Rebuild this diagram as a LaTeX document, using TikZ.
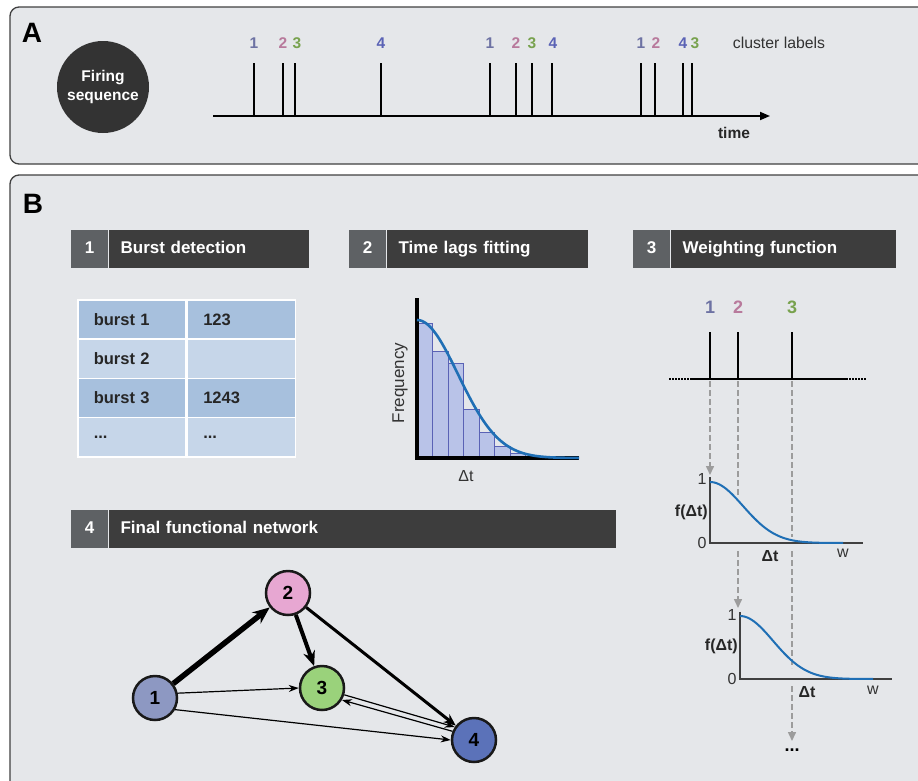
\documentclass[tikz,border=0pt]{standalone}
\usepackage{fontspec}
\setmainfont{Liberation Sans}
\usepackage{tikz}
\usetikzlibrary{positioning, arrows.meta}

\definecolor{panelbg}{HTML}{E5E7EA}
\definecolor{hdrdark}{HTML}{3D3D3D}
\definecolor{hdrnum}{HTML}{5E6164}
\definecolor{cluA}{HTML}{6D72A3}
\definecolor{cluB}{HTML}{B87A9C}
\definecolor{cluC}{HTML}{78A24E}
\definecolor{cluD}{HTML}{5A62B5}
\definecolor{rowdark}{HTML}{A7C0DD}
\definecolor{rowlight}{HTML}{C6D6E9}
\definecolor{barfill}{HTML}{B9C3E8}
\definecolor{barline}{HTML}{5A62B5}
\definecolor{fitblue}{HTML}{1F6FB5}
\definecolor{nodeA}{HTML}{8D98C2}
\definecolor{nodeB}{HTML}{E7A7D2}
\definecolor{nodeC}{HTML}{9AD27B}
\definecolor{nodeD}{HTML}{5B72B9}
\definecolor{guide}{HTML}{9C9C9C}
\newcommand{\celldots}{...}

\begin{document}
\begin{tikzpicture}[x=1pt, y=-1pt,
        panel/.style={draw=black!75, line width=1.3pt, fill=panelbg, rounded corners=9pt},
        letter/.style={font=\fontsize{28}{30}\selectfont\bfseries},
        hnum/.style={fill=hdrnum, text=white, font=\fontsize{17}{20}\selectfont\bfseries, minimum width=37pt, minimum height=38pt, inner sep=0pt, text height=12.5pt, text depth=3.5pt, anchor=north west},
        htitle/.style={fill=hdrdark, text=white, font=\fontsize{17}{20}\selectfont\bfseries, minimum height=38pt, inner xsep=12pt, inner ysep=0pt, text height=12.5pt, text depth=3.5pt, text width=#1, align=left},
        clabel/.style={font=\fontsize{15.5}{18}\selectfont\bfseries},
        spike/.style={line width=1.8pt},
        cell/.style={draw=white, line width=1.5pt, minimum height=39.25pt, inner xsep=16pt, inner ysep=0pt, text width=76pt, align=left, anchor=north west, font=\fontsize{16.5}{19}\selectfont\bfseries, text=black!85},
        bar/.style={fill=barfill, draw=barline, line width=0.8pt},
        fit/.style={draw=fitblue, line width=2.6pt},
        wlabel/.style={font=\fontsize{18}{20}\selectfont\bfseries},
        gaxis/.style={draw=black!75, line width=2.4pt},
        gtext/.style={font=\fontsize{16}{18}\selectfont, text=black!80},
        gbold/.style={font=\fontsize{16}{18}\selectfont\bfseries, text=black!85},
        guideline/.style={draw=guide, line width=1.5pt, dash pattern=on 6pt off 3pt},
        guidearrow/.style={guideline, -{Triangle[length=9pt, width=8pt]}},
        netnode/.style={circle, draw=black!90, line width=2.5pt, minimum size=44pt, inner sep=0pt, font=\fontsize{19}{20}\selectfont\bfseries},
        heavy/.style={line width=5.5pt, -{Stealth[length=17pt, width=14pt]}},
        strong/.style={line width=4pt, -{Stealth[length=15pt, width=12pt]}},
        medium/.style={line width=3pt, -{Stealth[length=12pt, width=10pt]}},
        light/.style={line width=1.2pt, -{Stealth[length=10pt, width=7pt]}},
    ]
        \clip (0,0) rectangle (918,780);

        \draw[panel] (10,7) rectangle (940,164);
        \draw[panel] (10,175) rectangle (940,800);
        \node[letter] (la) at (32,33) {A};
        \node[letter] (lb) at (33,204) {B};

        \node[circle, fill=black!80, minimum size=92pt, text=white, align=center, font=\fontsize{15.5}{19}\selectfont\bfseries] (fire) at (103,87) {Firing\\sequence};
        \coordinate (t0) at (213,116);
        \coordinate (t1) at (770,116);
        \draw[spike, -{Triangle[length=10pt, width=8pt]}] (t0) -- (t1);
        \foreach \x/\lx/\c/\n in {254/254/cluA/1, 283/283/cluB/2, 295/297/cluC/3, 381/381/cluD/4, 490/490/cluA/1, 516/516/cluB/2, 532/532/cluC/3, 552/553/cluD/4, 641/641/cluA/1, 655/656/cluB/2, 683/683/cluD/4, 692/695/cluC/3} {
            \draw[spike] (\x,116) -- (\x,63);
            \node[clabel, text=\c] (s\x) at (\lx,43) {\n};
        }
        \node[font=\fontsize{15.8}{18}\selectfont, text=black!80] (clu) at (779,43) {cluster labels};
        \node[font=\fontsize{15.5}{18}\selectfont\bfseries, text=black!85] (time) at (734,133) {time};

        \node[hnum] (h1) at (71,230) {1};
        \node[htitle=176pt, right=0pt of h1] (t1) {Burst detection};
        \node[hnum] (h2) at (349,230) {2};
        \node[htitle=177pt, right=0pt of h2] (t2) {Time lags fitting};
        \node[hnum] (h3) at (633,230) {3};
        \node[htitle=201pt, right=0pt of h3] (t3) {Weighting function};
        \node[hnum] (h4) at (71,510) {4};
        \node[htitle=483pt, right=0pt of h4] (t4) {Final functional network};

        \foreach \r/\a/\b/\c in {1/burst 1/123/rowdark, 2/burst 2//rowlight, 3/burst 3/1243/rowdark, 4/\celldots/\celldots/rowlight} {
            \node[cell, fill=\c] (k\r) at (77,{299+39.25*(\r-1)}) {\a};
            \node[cell, fill=\c, right=0pt of k\r] (v\r) {\b};
        }

        \foreach \l/\t in {417/323, 432.5/351, 448/363, 463.5/409, 479/432, 494.5/446, 510/453}
            \draw[bar] (\l,458) rectangle ({\l+15.5},\t);
        \draw[line width=3.5pt] (417,298) -- (417,458) -- (579,458);
        \draw[fit] plot[domain=0:162, samples=80] ({417+\x},{458-138*exp(-0.5*(\x/41)^2)});
        \node[rotate=90, font=\fontsize{17}{20}\selectfont, text=black!80] (freq) at (400,383) {Frequency};
        \node[font=\fontsize{16}{18}\selectfont, text=black!80] (dt) at (466,476) {Δt};

        \foreach \x/\c/\n in {710/cluA/1, 738/cluB/2, 792/cluC/3} {
            \node[wlabel, text=\c] (w\n) at (\x,307) {\n};
            \draw[line width=2.4pt] (\x,379) -- (\x,332);
        }
        \draw[line width=2.4pt] (690,379) -- (846,379);
        \draw[line width=2pt, dash pattern=on 1.5pt off 1.5pt] (669,379) -- (690,379) (846,379) -- (866,379);

        \draw[guidearrow] (710,381) -- (710,475);
        \draw[guideline] (738,381) -- (738,496);
        \draw[guidearrow] (738,551) -- (738,608);
        \draw[guideline] (792,381) -- (792,537) (792,551) -- (792,668);
        \draw[guidearrow] (792,686) -- (792,741);

        \draw[gaxis] (710,477) -- (710,543) -- (863,543);
        \draw[fit, line width=2pt] plot[domain=0:133, samples=70] ({710+\x},{543-61*exp(-0.5*(\x/33)^2)});
        \node[gtext, anchor=east] (ga1) at (710,479) {1};
        \node[gtext, anchor=east] (ga0) at (710,543) {0};
        \node[gbold, anchor=east, inner sep=1pt] (gaf) at (709,512) {f(Δt)};
        \node[gbold] (gad) at (770,556) {Δt};
        \node[gtext] (gaw) at (843,553) {w};

        \draw[gaxis] (740,612) -- (740,679) -- (892,679);
        \draw[fit, line width=2pt] plot[domain=0:133, samples=70] ({740+\x},{679-63*exp(-0.5*(\x/33)^2)});
        \node[gtext, anchor=east] (gb1) at (740,615) {1};
        \node[gtext, anchor=east] (gb0) at (740,679) {0};
        \node[gbold, anchor=east, inner sep=1pt] (gbf) at (739,646) {f(Δt)};
        \node[gbold] (gbd) at (807,692) {Δt};
        \node[gtext] (gbw) at (873,690) {w};
        \node[font=\fontsize{18}{20}\selectfont\bfseries] (more) at (792,750) {...};

        \node[netnode, fill=nodeA] (n1) at (155,698) {1};
        \node[netnode, fill=nodeB] (n2) at (288,593) {2};
        \node[netnode, fill=nodeC] (n3) at (322,688) {3};
        \node[netnode, fill=nodeD] (n4) at (474,740) {4};

        \draw[heavy] (n1) -- (n2);
        \draw[strong] (n2) -- (n3);
        \draw[medium] (n2) -- (n4);
        \draw[light] (n1.12) -- (n3.west);
        \draw[light] (n1.-30) -- (n4.west);
        \draw[light] (n3.-17) -- (n4.146);
        \draw[light] (n4.158) -- (n3.-31);
    \end{tikzpicture}
\end{document}
